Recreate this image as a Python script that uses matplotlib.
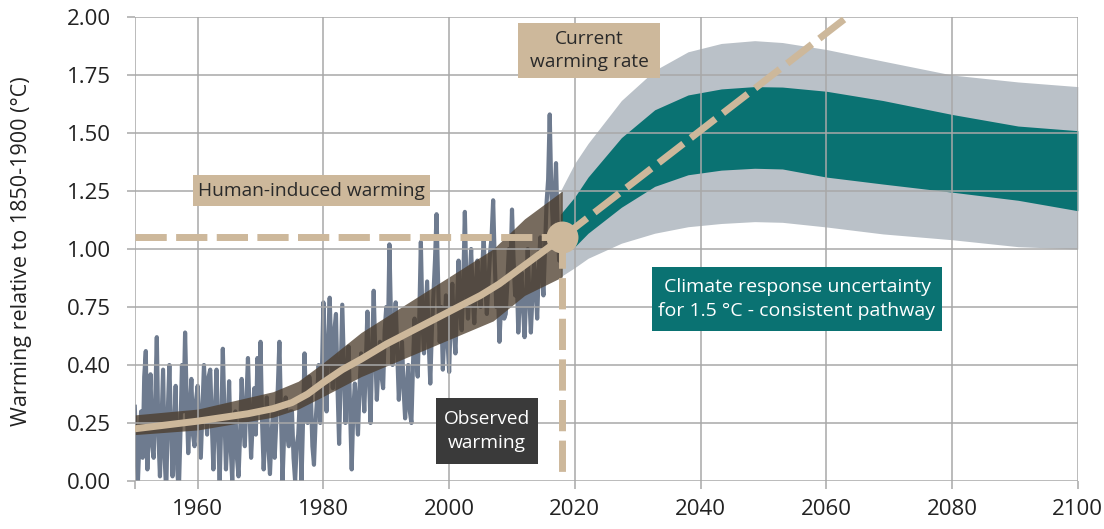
import matplotlib
matplotlib.use("Agg")
import matplotlib.pyplot as plt
import numpy as np
from matplotlib.patches import Rectangle

plt.rcParams['font.family'] = ['Open Sans', 'DejaVu Sans']

# ---------------- data ----------------
# observed warming, quarter-year steps from 1950.0 to 2018.0
obs_start = 1950.0
obs_step = 0.25
obs_values = [
    0.32, 0.12, 0.00, 0.18,   0.30, 0.10, 0.45, 0.56,   0.05, 0.30, 0.46, 0.15,   # 1950-52
    0.10, 0.35, 0.62, 0.20,   0.02, 0.25, 0.48, 0.10,   -0.05, 0.30, 0.50, 0.25,  # 1953-55
    0.02, 0.20, 0.41, 0.05,   -0.05, 0.20, 0.50, 0.30,  0.64, 0.35, 0.12, 0.30,   # 1956-58
    0.44, 0.20, 0.15, 0.35,   0.41, 0.25, 0.10, 0.30,   0.50, 0.35, 0.20, 0.45,   # 1959-61
    0.48, 0.25, 0.05, 0.30,   0.48, 0.20, 0.00, 0.25,   0.57, 0.30, 0.05, 0.20,   # 1962-64
    0.43, 0.15, 0.00, 0.25,   0.30, 0.10, 0.02, 0.20,   0.44, 0.25, 0.15, 0.35,   # 1965-67
    0.53, 0.30, 0.10, 0.25,   0.40, 0.20, 0.53, 0.30,   0.60, 0.25, 0.05, 0.20,   # 1968-70
    0.36, 0.15, 0.03, 0.20,   0.30, 0.10, 0.25, 0.40,   0.60, 0.30, 0.00, 0.20,   # 1971-73
    0.36, 0.20, 0.15, 0.30,   0.30, 0.10, 0.00, 0.15,   0.20, 0.35, -0.02, 0.25,  # 1974-76
    0.55, 0.30, 0.25, 0.45,   0.38, 0.15, 0.07, 0.25,   0.36, 0.50, 0.25, 0.45,   # 1977-79
    0.77, 0.50, 0.30, 0.60,   0.79, 0.55, 0.40, 0.65,   0.72, 0.40, 0.16, 0.45,   # 1980-82
    0.76, 0.50, 0.25, 0.45,   0.58, 0.30, 0.05, 0.30,   0.42, 0.30, 0.20, 0.40,   # 1983-85
    0.55, 0.45, 0.30, 0.50,   0.73, 0.45, 0.25, 0.55,   0.82, 0.55, 0.35, 0.50,   # 1986-88
    0.60, 0.45, 0.40, 0.65,   0.75, 0.60, 1.02, 0.70,   0.50, 0.65, 0.77, 0.55,   # 1989-91
    0.35, 0.50, 0.60, 0.40,   0.27, 0.40, 0.50, 0.30,   0.25, 0.50, 0.70, 0.55,   # 1992-94
    0.45, 0.70, 1.03, 0.70,   0.55, 0.70, 0.86, 0.60,   0.42, 0.65, 0.80, 0.95,   # 1995-97
    1.15, 0.85, 0.60, 0.75,   0.48, 0.65, 0.80, 0.60,   0.47, 0.70, 0.85, 0.65,   # 1998-2000
    0.55, 0.75, 0.95, 0.75,   0.65, 0.85, 1.16, 0.85,   0.70, 0.85, 1.00, 0.80,   # 2001-03
    0.68, 0.85, 0.95, 0.80,   0.75, 0.90, 1.05, 0.85,   0.72, 0.85, 0.98, 1.05,   # 2004-06
    1.21, 0.95, 0.75, 0.85,   0.60, 0.75, 0.85, 0.70,   0.72, 0.85, 1.00, 0.90,   # 2007-09
    1.17, 0.95, 0.80, 0.90,   0.64, 0.80, 0.90, 0.75,   0.62, 0.80, 1.00, 0.80,   # 2010-12
    0.64, 0.80, 0.95, 0.85,   0.70, 0.90, 1.05, 0.90,   0.80, 1.00, 1.20, 1.30,   # 2013-15
    1.58, 1.25, 1.10, 1.20,   1.37, 1.10, 0.95, 1.00,   1.05,                     # 2016-18
]
obs_years = obs_start + obs_step * np.arange(len(obs_values))

# human-induced warming (central line and band)
hi_years = [1950, 1960, 1968, 1972, 1975, 1977.5, 1980, 1983, 1986, 1990,
            1995, 2000, 2005, 2008, 2012, 2015.5, 2018]
hi_values = [0.225, 0.258, 0.29, 0.312, 0.338, 0.375, 0.425, 0.48, 0.525, 0.59,
             0.66, 0.73, 0.80, 0.85, 0.93, 1.00, 1.05]
band_years = [1950, 1960, 1972, 1976, 1980, 1986, 2000, 2007, 2012, 2018]
band_lower = [0.20, 0.22, 0.275, 0.31, 0.365, 0.45, 0.61, 0.69, 0.80, 0.88]
band_upper = [0.285, 0.31, 0.385, 0.43, 0.51, 0.64, 0.88, 1.00, 1.13, 1.25]

# climate response uncertainty (future)
fut_years = [2017.7, 2020, 2022.1, 2027.4, 2032.7, 2038, 2043.3, 2048.6,
             2053, 2060, 2069, 2080, 2090.5, 2100]
gray_upper = [1.25, 1.37, 1.455, 1.64, 1.77, 1.85, 1.886, 1.898, 1.89, 1.86, 1.81, 1.75, 1.72, 1.70]
teal_upper = [1.15, 1.225, 1.31, 1.48, 1.60, 1.664, 1.69, 1.70, 1.698, 1.68, 1.64, 1.58, 1.53, 1.51]
teal_lower = [0.99, 1.01, 1.068, 1.18, 1.27, 1.32, 1.34, 1.348, 1.345, 1.31, 1.28, 1.245, 1.21, 1.165]
gray_lower = [0.88, 0.92, 0.96, 1.025, 1.068, 1.096, 1.11, 1.118, 1.115, 1.095, 1.065, 1.04, 1.01, 1.00]

# current warming and current warming rate
current_year = 2018
current_level = 1.05
rate_years = [2018, 2070]
rate_values = [1.05, 2.14]

x_ticks = [1950, 1960, 1980, 2000, 2020, 2040, 2060, 2080, 2100]
x_tick_labels = ["", "1960", "1980", "2000", "2020", "2040", "2060", "2080", "2100"]
y_ticks = [0.0, 0.25, 0.5, 0.75, 1.0, 1.25, 1.5, 1.75, 2.0]
y_tick_labels = ["0.00", "0.25", "0.40", "0.75", "1.00", "1.25", "1.50", "1.75", "2.00"]

# ---------------- style ----------------
TAN = "#cdb89b"
TEAL = "#0a7272"
GRAYBAND = "#bac1c8"
GRID = "#a8a8a8"
W, H = 1104, 529

fig = plt.figure(figsize=(W / 100, H / 100), dpi=100)
ax = fig.add_axes([134.8 / W, 48 / H, 943 / W, 464 / H])
ax.set_xlim(1950, 2100)
ax.set_ylim(0, 2)

ax.fill_between(fut_years, gray_lower, gray_upper, color=GRAYBAND, lw=0, zorder=1)
ax.fill_between(fut_years, teal_lower, teal_upper, color=TEAL, lw=0, zorder=1.1)
ax.plot(obs_years, obs_values, color="#4e5e76", lw=3.0, alpha=0.82, zorder=1.2,
        solid_joinstyle="round")
ax.fill_between(band_years, band_lower, band_upper, color="#4a3a28", alpha=0.75,
                lw=0, zorder=1.3)

ax.set_axisbelow(False)
ax.grid(True, color=GRID, lw=1.1)
for s in ax.spines.values():
    s.set_visible(False)

ax.plot(hi_years, hi_values, color=TAN, lw=5, zorder=3, solid_capstyle="butt",
        solid_joinstyle="round")

dash_kw = dict(color=TAN, lw=5, dashes=(4.5, 1.35), dash_capstyle="butt", zorder=3.5)
ax.plot([1950, current_year], [current_level, current_level], **dash_kw)
ax.plot([current_year, current_year], [current_level, 0], **dash_kw)
ax.plot(rate_years, rate_values, **dash_kw)
ax.plot([current_year], [current_level], "o", ms=23, color=TAN, mec="none", zorder=5)

ax.set_xticks(x_ticks)
ax.set_xticklabels(x_tick_labels)
ax.set_yticks(y_ticks)
ax.set_yticklabels(y_tick_labels)
ax.tick_params(axis="both", length=6, width=1.1, color=GRID, labelsize=16,
               labelcolor="#222222")
ax.tick_params(axis="y", pad=11)
ax.tick_params(axis="x", pad=7)

fig.text(22 / W, 1 - 251 / H, "Warming relative to 1850-1900 (°C)", rotation=90,
         ha="center", va="center", fontsize=15.5, color="#222222")


def box(x0, y0, x1, y1, fc, text, tc, fs=13.8):
    fig.patches.append(Rectangle((x0 / W, 1 - y1 / H), (x1 - x0) / W, (y1 - y0) / H,
                                 transform=fig.transFigure, facecolor=fc,
                                 edgecolor="none", zorder=6))
    fig.text((x0 + x1) / 2 / W, 1 - (y0 + y1) / 2 / H, text, ha="center",
             va="center", fontsize=fs, color=tc, linespacing=1.4, zorder=7)


box(518, 23, 660, 78, TAN, "Current\nwarming rate", "#2a2a2a")
box(193, 175, 430, 206, TAN, "Human-induced warming", "#2a2a2a")
box(436, 398, 538, 464, "#3a3a3a", "Observed\nwarming", "white")
box(652, 267, 942, 331, TEAL, "Climate response uncertainty\nfor 1.5 °C - consistent pathway",
    "white", fs=14)

fig.savefig("out.png", dpi=100)
